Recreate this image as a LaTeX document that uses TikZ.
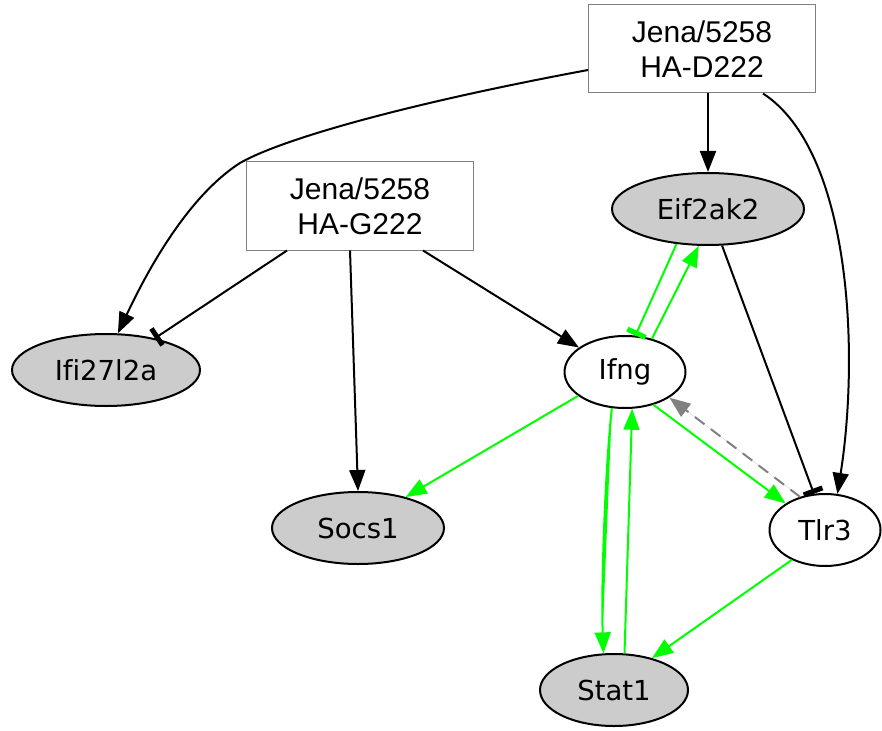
\documentclass[tikz,border=0pt]{standalone}
\usepackage{fontspec}
\setmainfont{Liberation Sans}
\newfontfamily\genefont[Ligatures=NoCommon]{DejaVu Sans}
\usetikzlibrary{shapes.geometric,arrows.meta}
\definecolor{hitgray}{HTML}{CCCCCC}
\definecolor{actgreen}{HTML}{00FF00}

\begin{document}
\begin{tikzpicture}[x=1pt,y=-1pt]
\tikzstyle{every node}+=[inner sep=0pt]
\tikzstyle{strain}=[draw=gray,line width=1pt,fill=white,minimum width=227pt,minimum height=88pt,align=center,font=\fontsize{30}{35}\selectfont]
\tikzstyle{gene}=[draw=black,line width=2pt,ellipse,fill=white,minimum height=72pt,font=\genefont\fontsize{27.5}{32}\selectfont]
\tikzstyle{hit}=[gene,fill=hitgray]
\tikzstyle{act}=[line width=2pt,-{Triangle[length=21pt,width=16pt]}]
\tikzstyle{inh}=[line width=2pt,-{Rectangle[length=5pt,width=20pt]}]
\useasboundingbox (0,0) rectangle (882,730);
% nodes
\node[strain] (d222) at (702,49) {Jena/5258\\HA-D222};
\node[strain] (g222) at (360,206) {Jena/5258\\HA-G222};
\node[hit,minimum width=192pt] (eif) at (708,209) {Eif2ak2};
\node[hit,minimum width=188pt] (ifi) at (106,370) {Ifi27l2a};
\node[gene,minimum width=121pt] (ifng) at (625,372) {Ifng};
\node[hit,minimum width=172pt] (socs) at (358,528) {Socs1};
\node[gene,minimum width=111pt] (tlr) at (825,530) {Tlr3};
\node[hit,minimum width=148pt] (stat) at (614,690) {Stat1};
% strain edges
\draw[act] ([yshift=-21pt]d222.west) .. controls (400,105) and (280,140) .. (240,163) .. controls (190,195) and (150,265) .. (ifi.72);
\draw[act] ([xshift=6pt]d222.south) -- (eif.north);
\draw[act] ([xshift=61pt]d222.south) .. controls (850,150) and (860,350) .. (tlr.71);
\draw[inh] ([xshift=-73pt]g222.south) -- (ifi.33);
\draw[act] ([xshift=-10pt]g222.south) -- (socs.north);
\draw[act] ([xshift=63pt]g222.south) -- (ifng.152);
% gene edges
\draw[inh] (eif.291) -- (tlr.107);
\draw[inh,draw=actgreen,fill=actgreen] (eif.228) -- (ifng.74);
\draw[act,draw=actgreen,fill=actgreen] (ifng.51) -- (eif.256);
\draw[act,draw=actgreen,fill=actgreen] (ifng.207) -- (socs.33);
\draw[act,draw=actgreen,fill=actgreen] (ifng.311) -- (tlr.146);
\draw[act,draw=gray,fill=gray,dashed,dash pattern=on 12pt off 8pt] (tlr.127) -- (ifng.330);
\draw[act,draw=actgreen,fill=actgreen] (ifng.250) .. controls (605,470) and (601,590) .. (stat.106);
\draw[act,draw=actgreen,fill=actgreen] (stat.74) -- (ifng.281);
\draw[act,draw=actgreen,fill=actgreen] (tlr.222) -- (stat.40);
\end{tikzpicture}
\end{document}
